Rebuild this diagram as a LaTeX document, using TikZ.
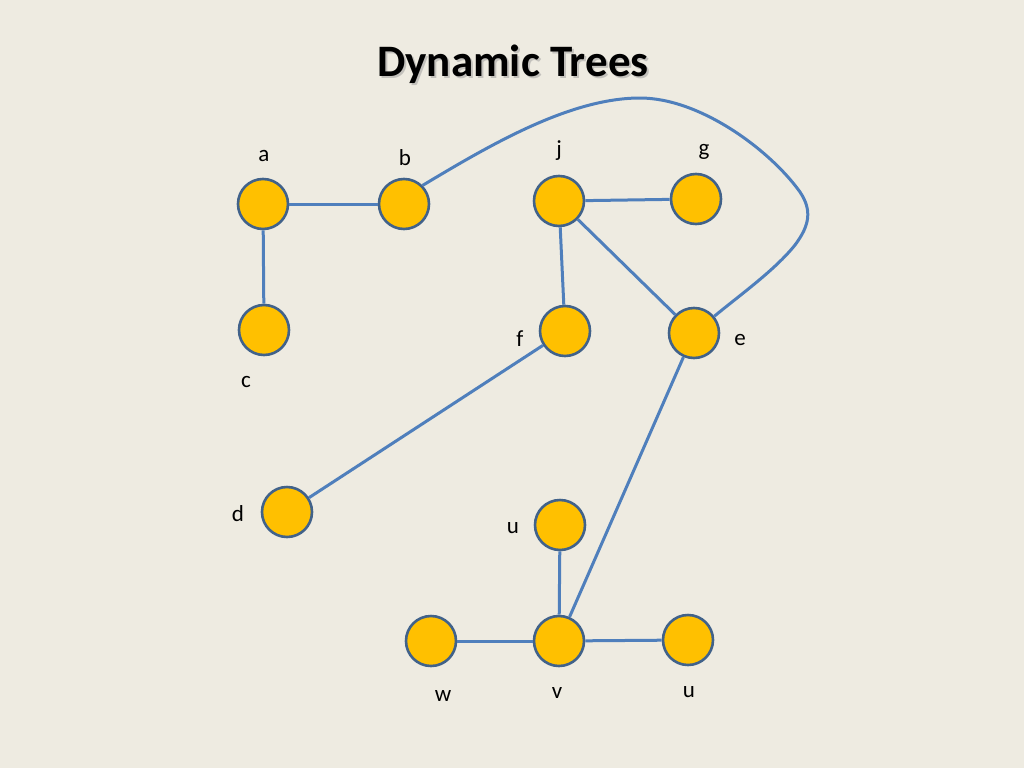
\documentclass[tikz,border=0pt]{standalone}
\usepackage{fontspec}
\setmainfont{Carlito}
\usetikzlibrary{positioning}

\definecolor{slidebg}{HTML}{EEEBE1}
\definecolor{vertfill}{HTML}{FFC000}
\definecolor{vertline}{HTML}{41628A}
\definecolor{edgeblue}{HTML}{4F7FBC}

\tikzset{
  vertex/.style={circle,draw=vertline,fill=vertfill,line width=2.6pt,minimum size=50pt,inner sep=0pt},
  tree/.style={draw=edgeblue,line width=3pt},
  lbl/.style={font=\fontsize{23}{23}\selectfont,text=black}
}

\begin{document}
\begin{tikzpicture}[x=1pt,y=-1pt]

% background
\fill[slidebg] (0,0) rectangle (1024,768);
\useasboundingbox (0,0) rectangle (1024,768);

% title
\node[font=\bfseries\fontsize{45}{45}\selectfont,text=black!40,opacity=0.5] (titleshadow) at (515,66) {Dynamic Trees};
\node[font=\bfseries\fontsize{45}{45}\selectfont] (title) at (513,64) {Dynamic Trees};

% vertices
\node[vertex] (a) at (263,204) {};
\node[vertex] (b) at (404,204) {};
\node[vertex] (c) at (264,330) {};
\node[vertex] (j) at (559,201) {};
\node[vertex] (g) at (696,199) {};
\node[vertex] (f) at (565,331) {};
\node[vertex] (e) at (694,333) {};
\node[vertex] (d) at (287,512) {};
\node[vertex] (u1) at (560,525) {};
\node[vertex] (w) at (431,641) {};
\node[vertex] (v) at (559,641) {};
\node[vertex] (u2) at (688,640) {};

% labels
\node[lbl] (la) at (264,156) {a};
\node[lbl] (lb) at (405,158) {b};
\node[lbl] (lc) at (246,382) {c};
\node[lbl] (lj) at (559,151) {j};
\node[lbl] (lg) at (704,152) {g};
\node[lbl] (lf) at (520,339) {f};
\node[lbl] (le) at (740,340) {e};
\node[lbl] (ld) at (238,514) {d};
\node[lbl] (lu1) at (513,528) {u};
\node[lbl] (lw) at (443,696) {w};
\node[lbl] (lv) at (557,693) {v};
\node[lbl] (lu2) at (689,692) {u};

% edges
\draw[tree] (a) -- (b);
\draw[tree] (a) -- (c);
\draw[tree] (j) -- (g);
\draw[tree] (j) -- (f);
\draw[tree] (j) -- (e);
\draw[tree] (f) -- (d);
\draw[tree] (e) -- (v);
\draw[tree] (u1) -- (v);
\draw[tree] (w) -- (v);
\draw[tree] (v) -- (u2);
\draw[tree] (b.45) .. controls (490,145) and (570,98) .. (640,98)
  .. controls (700,98) and (770,150) .. (800,192)
  .. controls (812,210) and (810,225) .. (795,245)
  .. controls (775,270) and (740,295) .. (e);

\end{tikzpicture}
\end{document}
